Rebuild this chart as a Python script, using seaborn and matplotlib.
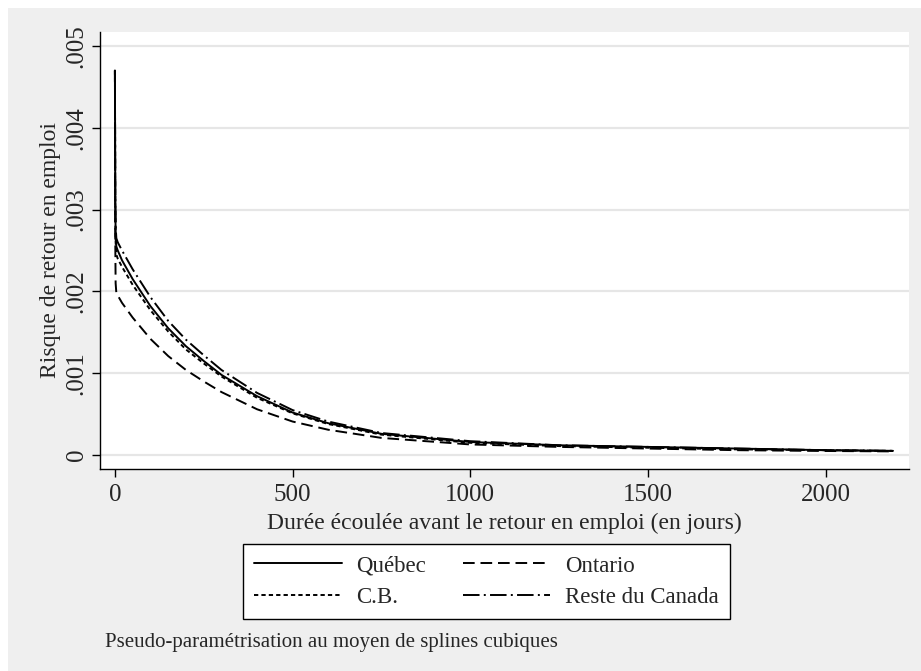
import matplotlib
matplotlib.use("Agg")
import matplotlib.pyplot as plt
from matplotlib.patches import Rectangle
import seaborn as sns
import numpy as np

# Data
t = [0, 1, 2, 4, 8, 20, 50, 100, 150, 200, 250, 300, 400, 500, 600, 750,
     1000, 1250, 1500, 1750, 2000, 2190]
quebec = [.0047, .0031, .0027, .00255, .0025, .00238, .00215, .00182, .00155,
          .00133, .00115, .00098, .00072, .00052, .00039, .00026, .00016,
          .00012, .0001, .00008, .00006, .000052]
ontario = [.0047, .0026, .0021, .00198, .00195, .00186, .00168, .00142, .00121,
           .00104, .00090, .00077, .00056, .00041, .00031, .00021, .00013,
           .0001, .00008, .00006, .00005, .000045]
cb = [.0047, .0030, .0026, .00245, .0024, .00230, .00208, .00177, .00151,
      .00129, .00112, .00096, .00070, .00051, .00038, .00025, .00015,
      .00011, .00009, .00007, .00006, .00005]
reste = [.0047, .0032, .0028, .00265, .0026, .0025, .00227, .00193, .00164,
         .00141, .00122, .00104, .00076, .00055, .00041, .00027, .00017,
         .00012, .0001, .00008, .00006, .000052]
labels = ["Québec", "Ontario", "C.B.", "Reste du Canada"]
xticks = [0, 500, 1000, 1500, 2000]
yticks = [0, .001, .002, .003, .004, .005]
ytick_labels = ["0", ".001", ".002", ".003", ".004", ".005"]

sns.set_theme(style="white")
plt.rcParams['font.family'] = ['Liberation Serif', 'DejaVu Serif']

W, H = 921, 671
fig = plt.figure(figsize=(W / 100, H / 100), dpi=100, facecolor="white")
fig.patches.append(Rectangle((8 / W, 0), 1 - 8 / W, 1 - 8 / H,
                             transform=fig.transFigure, facecolor="#efefef",
                             edgecolor="none", zorder=-10))

ax = fig.add_axes([100 / W, 1 - 469 / H, (909 - 100) / W, (469 - 32) / H])
ax.set_zorder(1)
ax.set_facecolor("white")

dash_styles = [None, (6, 3), (2.2, 1.6), (8.5, 2.2, 1, 2.2)]
series = [quebec, ontario, cb, reste]
for name, vals, d in zip(labels, series, dash_styles):
    sns.lineplot(x=t, y=vals, color="black", linewidth=1.4, ax=ax, label=name)
    ln = ax.lines[-1]
    if d is not None:
        ln.set_dashes(d)

FS = 18
LFS = 17
ax.set_xlim(-42, 2235)
ax.set_ylim(-0.00017, 0.00517)
ax.set_xticks(xticks)
ax.set_xticklabels([str(v) for v in xticks], fontsize=FS)
ax.set_yticks(yticks)
ax.set_yticklabels(ytick_labels, fontsize=FS, rotation=90, va="center")
ax.yaxis.grid(True, color="#e6e6e6", linewidth=1.6)
ax.xaxis.grid(False)
for s in ["top", "right"]:
    ax.spines[s].set_visible(False)
for s in ["left", "bottom"]:
    ax.spines[s].set_color("black")
    ax.spines[s].set_linewidth(1.0)
ax.tick_params(axis="x", direction="out", length=6, width=1, color="black",
               bottom=True, pad=5)
ax.tick_params(axis="y", direction="out", length=6, width=1, color="black",
               left=True, pad=3)
ax.set_xlabel("Durée écoulée avant le retour en emploi (en jours)", fontsize=LFS,
              labelpad=5)
ax.set_ylabel("Risque de retour en emploi", fontsize=LFS, labelpad=3)

handles, labs = ax.get_legend_handles_labels()
ax.get_legend().remove()
order = [0, 2, 1, 3]
leg = fig.legend([handles[i] for i in order], [labs[i] for i in order],
                 loc="upper left", bbox_to_anchor=(243 / W, 1 - 544 / H), ncol=2,
                 fontsize=16.5, frameon=True, fancybox=False, edgecolor="black",
                 facecolor="white", framealpha=1, handlelength=3.8,
                 columnspacing=1.6, borderpad=0.5, labelspacing=0.45,
                 handletextpad=0.65, borderaxespad=0)
leg.get_frame().set_linewidth(1.0)

fig.text(105 / W, 1 - 643 / H, "Pseudo-paramétrisation au moyen de splines cubiques",
         fontsize=15, ha="left", va="center")

fig.savefig("out.png", dpi=100, facecolor=fig.get_facecolor())
